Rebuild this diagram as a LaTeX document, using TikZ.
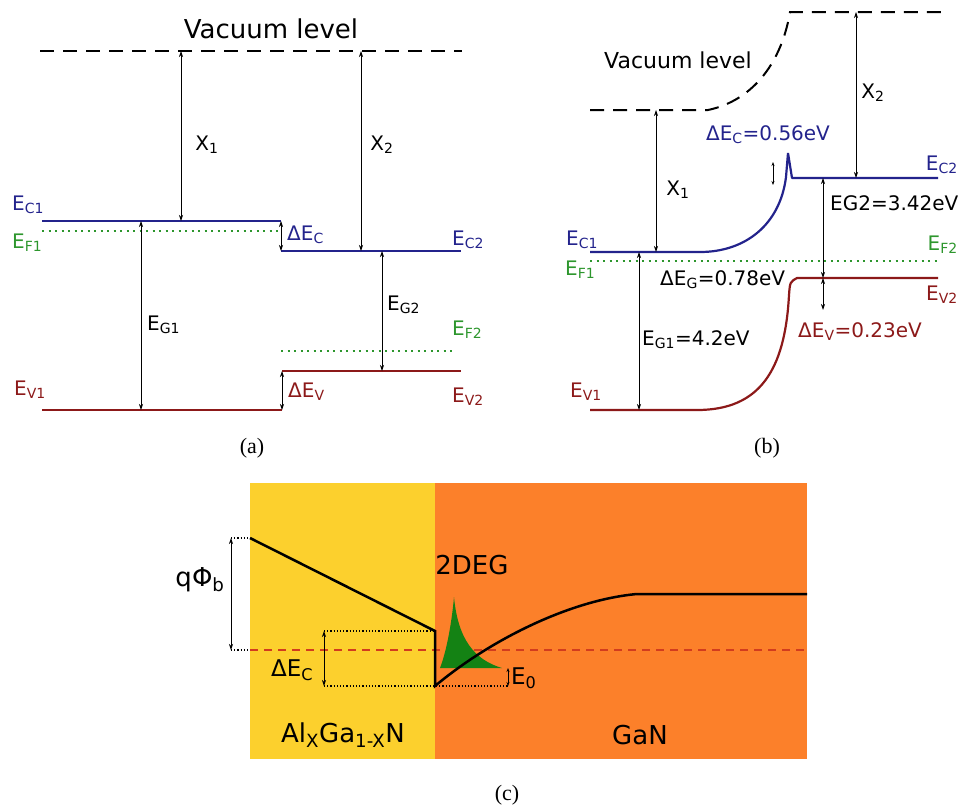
\documentclass[tikz,border=0pt]{standalone}
\usepackage{fontspec}
\setmainfont{DejaVu Sans}
\newfontfamily\capfont{Liberation Serif}
\usetikzlibrary{arrows.meta,calc}

\definecolor{bandblue}{RGB}{35,35,140}
\definecolor{bandred}{RGB}{140,25,25}
\definecolor{fermigreen}{RGB}{45,150,45}
\definecolor{layeryellow}{RGB}{252,208,45}
\definecolor{layerorange}{RGB}{252,128,42}
\definecolor{dosgreen}{RGB}{20,130,20}
\definecolor{fermired}{RGB}{210,60,30}

\newcommand{\sub}[1]{\textsubscript{#1}}

\begin{document}
\begin{tikzpicture}[
  x=1pt, y=-1pt,
  band/.style={line width=2.2pt},
  vac/.style={dash pattern=on 14pt off 9pt, line width=2pt},
  fermi/.style={fermigreen, dash pattern=on 2pt off 4.5pt, line width=2pt},
  gap/.style={{Stealth[length=6pt,width=4pt]}-{Stealth[length=6pt,width=4pt]}, line width=0.7pt},
  small gap/.style={{Stealth[length=4pt,width=3pt]}-{Stealth[length=4pt,width=3pt]}, line width=0.7pt},
  lbl/.style={inner sep=0pt, font=\fontsize{20}{20}\selectfont},
  big/.style={inner sep=0pt, font=\fontsize{26}{26}\selectfont},
  caption/.style={inner sep=0pt, font=\capfont\fontsize{22}{22}\selectfont}
]
  \useasboundingbox (0,0) rectangle (959,807);

  % (a) flat bands
  \draw[vac] (40,51) -- (462,51);
  \node[big] (vaca) at (271,29) {Vacuum level};
  \draw[band, bandblue] (42,221) -- (281,221);
  \draw[band, bandblue] (281,251) -- (461,251);
  \draw[fermi] (42,231) -- (281,231);
  \draw[fermi] (281,351) -- (455,351);
  \draw[band, bandred] (42,410) -- (282,410);
  \draw[band, bandred] (282,371) -- (461,371);

  \draw[gap] (181,51) -- (181,221);
  \draw[gap] (361,51) -- (361,251);
  \draw[gap] (141,221) -- (141,410);
  \draw[gap] (382,251) -- (382,371);
  \draw[gap] (281,221) -- (281,251);
  \draw[gap] (282,371) -- (282,410);

  \node[lbl] (x1a) at (207,145) {X\sub{1}};
  \node[lbl] (x2a) at (382,145) {X\sub{2}};
  \node[lbl, anchor=west, bandblue] (ec1a) at (12,205) {E\sub{C1}};
  \node[lbl, anchor=west, fermigreen] (ef1a) at (12,243) {E\sub{F1}};
  \node[lbl, anchor=west, bandblue] (deca) at (287,235) {ΔE\sub{C}};
  \node[lbl, anchor=west, bandblue] (ec2a) at (452,240) {E\sub{C2}};
  \node[lbl, anchor=west] (eg1a) at (147,325) {E\sub{G1}};
  \node[lbl, anchor=west] (eg2a) at (387,305) {E\sub{G2}};
  \node[lbl, anchor=west, fermigreen] (ef2a) at (452,330) {E\sub{F2}};
  \node[lbl, anchor=west, bandred] (ev1a) at (14,390) {E\sub{V1}};
  \node[lbl, anchor=west, bandred] (deva) at (288,392) {ΔE\sub{V}};
  \node[lbl, anchor=west, bandred] (ev2a) at (452,397) {E\sub{V2}};
  \node[caption] (capa) at (252,448) {(a)};

  % (b) bent bands
  \draw[vac] (590,110) -- (708,110) .. controls (755,100) and (782,60) .. (790,12) -- (945,12);
  \node[lbl, font=\fontsize{22}{22}\selectfont] (vacb) at (678,60) {Vacuum level};
  \draw[band, bandblue, line join=bevel] (590,252) -- (700,252)
    .. controls (745,252) and (780,225) .. (786,177) -- (788,153) -- (792,178) -- (938,178);
  \draw[fermi] (590,261) -- (938,261);
  \draw[band, bandred] (590,410) -- (697,410)
    .. controls (760,410) and (785,370) .. (789,295) .. controls (790,282) .. (797,278) -- (938,278);

  \draw[gap] (656,110) -- (656,252);
  \draw[gap] (856,12) -- (856,178);
  \draw[small gap] (773,162) -- (773,185);
  \draw[gap] (823,178) -- (823,278);
  \draw[gap] (823,278) -- (823,310);
  \draw[gap] (639,252) -- (639,410);

  \node[lbl] (x1b) at (678,190) {X\sub{1}};
  \node[lbl] (x2b) at (873,93) {X\sub{2}};
  \node[lbl, bandblue] (decb) at (768,135) {ΔE\sub{C}=0.56eV};
  \node[lbl, anchor=east, bandblue] (ec2b) at (958,165) {E\sub{C2}};
  \node[lbl, anchor=west] (eg2b) at (830,203) {EG2=3.42eV};
  \node[lbl, anchor=west, bandblue] (ec1b) at (566,240) {E\sub{C1}};
  \node[lbl, anchor=west, fermigreen] (ef1b) at (565,270) {E\sub{F1}};
  \node[lbl, anchor=east, fermigreen] (ef2b) at (958,245) {E\sub{F2}};
  \node[lbl, anchor=west] (degb) at (660,280) {ΔE\sub{G}=0.78eV};
  \node[lbl, anchor=east, bandred] (ev2b) at (958,295) {E\sub{V2}};
  \node[lbl, anchor=west] (eg1b) at (642,340) {E\sub{G1}=4.2eV};
  \node[lbl, anchor=west, bandred] (devb) at (798,332) {ΔE\sub{V}=0.23eV};
  \node[lbl, anchor=west, bandred] (ev1b) at (570,392) {E\sub{V1}};
  \node[caption] (capb) at (767,448) {(b)};

  % (c) AlGaN/GaN well
  \fill[layeryellow] (250,483) rectangle (435,759);
  \fill[layerorange] (435,483) rectangle (807,759);
  \draw[fermired, dash pattern=on 8pt off 6pt, line width=1.3pt] (250,650) -- (807,650);
  \fill[dosgreen] (440,668) .. controls (447,650) and (452,620) .. (454,597)
    .. controls (458,640) and (475,660) .. (502,668) -- cycle;
  \draw[line width=2.5pt] (250,538) -- (435,631) -- (435,686)
    .. controls (490,640) and (570,600) .. (637,594) -- (807,594);

  \draw[dotted, line width=1.2pt] (231,538) -- (250,538);
  \draw[dotted, line width=1.2pt] (231,650) -- (250,650);
  \draw[dotted, line width=1.2pt] (324,631) -- (435,631);
  \draw[dotted, line width=1.2pt] (324,686) -- (508,686);
  \draw[gap] (231,538) -- (231,650);
  \draw[gap] (324,631) -- (324,686);
  \draw[small gap] (508,668) -- (508,686);

  \node[big] (qphi) at (200,580) {qΦ\sub{b}};
  \node[lbl, anchor=west, font=\fontsize{23}{23}\selectfont] (decc) at (271,670) {ΔE\sub{C}};
  \node[big] (deg) at (472,565) {2DEG};
  \node[lbl, anchor=west, font=\fontsize{23}{23}\selectfont] (ezero) at (511,678) {E\sub{0}};
  \node[big] (algan) at (343,735) {Al\sub{X}Ga\sub{1-X}N};
  \node[big] (gan) at (640,735) {GaN};
  \node[caption] (capc) at (507,795) {(c)};
\end{tikzpicture}
\end{document}
